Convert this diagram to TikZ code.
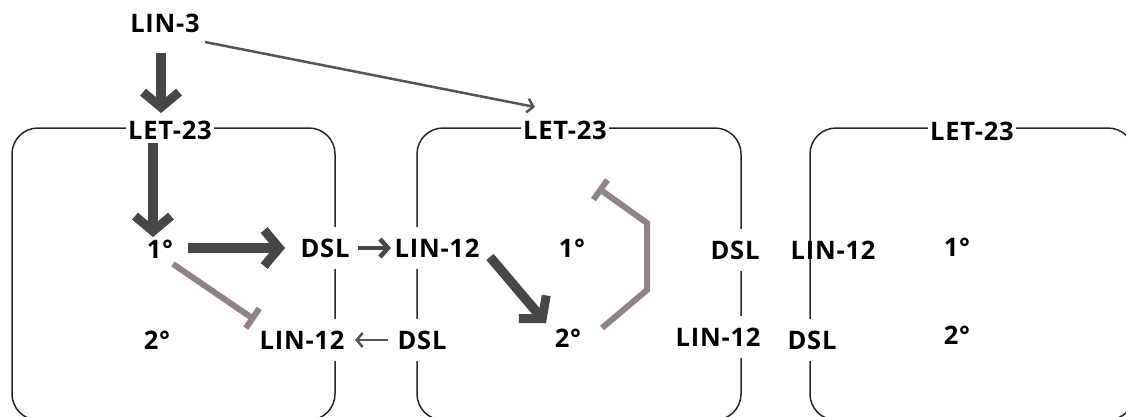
\documentclass[tikz,border=0pt]{standalone}
\usepackage{fontspec}
\setmainfont{Open Sans}
\newfontfamily\lblfont[LetterSpace=3,BoldFont={Open Sans Bold}]{Open Sans}
\usetikzlibrary{arrows.meta}
\definecolor{dk}{HTML}{47474A}
\definecolor{md}{HTML}{555557}
\definecolor{gr}{HTML}{8E8485}
\tikzset{
  lbl/.style={font=\lblfont\bfseries\fontsize{25.5}{30}\selectfont, inner xsep=2pt, inner ysep=2pt, text=black},
  wl/.style={lbl, fill=white, inner ysep=12pt},
  cell/.style={draw=black!85, line width=1.5pt, rounded corners=26pt},
  bigarrow/.style={draw=dk, line width=9.5pt, -{Straight Barb[length=15pt,width=36pt,line width=9pt]}},
  midarrow/.style={draw=dk, line width=4.5pt, -{Straight Barb[length=8pt,width=18pt,line width=4.5pt]}},
  thinarrow/.style={draw=md, line width=2.5pt, -{Straight Barb[length=6pt,width=14pt,line width=2.5pt]}},
  inhib/.style={draw=gr, line width=6pt, -{Bar[width=24pt,line width=6pt]}},
}
\begin{document}
\begin{tikzpicture}[x=1pt,y=-1pt]
\useasboundingbox (0,0) rectangle (1126,416);
% cells
\draw[cell] (12,128) rectangle (335,420);
\draw[cell] (417,128) rectangle (741,420);
\draw[cell] (810,128) rectangle (1134,420);
% labels
\node[lbl] (lin3) at (165,23) {LIN-3};
\node[wl] (leta) at (170,130) {LET-23};
\node[wl] (letb) at (565,130) {LET-23};
\node[wl] (letc) at (972,131) {LET-23};
\node[lbl] (onea) at (160,249) {1°};
\node[lbl] (twoa) at (157,340) {2°};
\node[wl] (dsla) at (325,248) {DSL};
\node[wl] (lin12a) at (302,340) {LIN-12};
\node[wl] (lin12b) at (437,248) {LIN-12};
\node[wl] (dslb) at (422,340) {DSL};
\node[lbl] (oneb) at (572,248) {1°};
\node[lbl] (twob) at (568,338) {2°};
\node[wl] (dslbr) at (735,250) {DSL};
\node[wl] (lin12br) at (718,337) {LIN-12};
\node[lbl] (lin12c) at (833,250) {LIN-12};
\node[wl] (dslc) at (812,340) {DSL};
\node[lbl] (onec) at (957,247) {1°};
\node[lbl] (twoc) at (957,335) {2°};
\coordinate (inhend) at (598,188);
% connectors
\draw[bigarrow] ([shift={(-4,30)}]lin3.center) -- ([shift={(-9,-17)}]leta.center);
\draw[bigarrow] ([shift={(-17,13)}]leta.center) -- ([shift={(-7,-12)}]onea.center);
\draw[bigarrow] ([shift={(28,-1)}]onea.center) -- ([shift={(-40,0)}]dsla.center);
\draw[midarrow] ([shift={(33,0)}]dsla.center) -- ([shift={(-46,0)}]lin12b.center);
\draw[inhib] ([shift={(13,15)}]onea.center) -- ([shift={(-47,-20)}]lin12a.center);
\draw[thinarrow] ([shift={(-34,0)}]dslb.center) -- ([shift={(53,0)}]lin12a.center);
\draw[thinarrow] ([shift={(40,19)}]lin3.center) -- ([shift={(-30,-23)}]letb.center);
\draw[bigarrow] ([shift={(53,9)}]lin12b.center) -- ([shift={(-22,-15)}]twob.center);
\draw[inhib, line join=miter] ([shift={(34,-10)}]twob.center) -- ++(45,-38) -- ++(0,-67) -- (inhend);
\end{tikzpicture}
\end{document}
